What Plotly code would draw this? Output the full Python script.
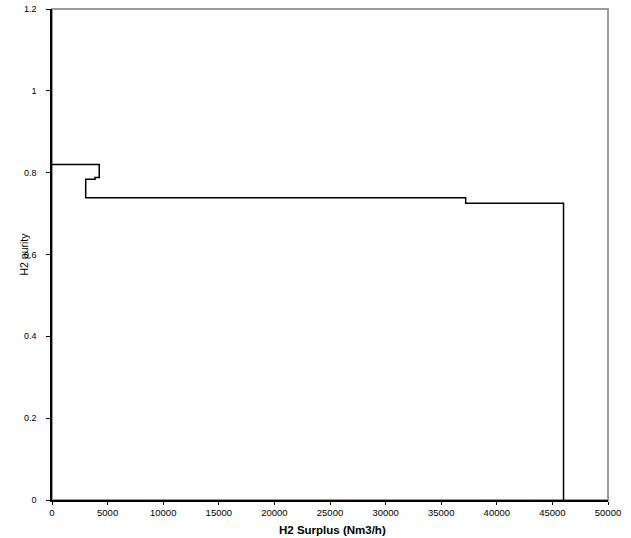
import plotly.graph_objects as go

# Step curve vertices (H2 surplus, purity), hv steps
surplus = [0, 4250, 3870, 3030, 37200, 46000]
purity = [0.82, 0.788, 0.784, 0.739, 0.725, 0.0]

x_ticks = [0, 5000, 10000, 15000, 20000, 25000, 30000, 35000, 40000, 45000, 50000]
y_ticks = [0, 0.2, 0.4, 0.6, 0.8, 1, 1.2]
y_tick_labels = ["0", "0.2", "0.4", "0.6", "0.8", "1", "1.2"]

FONT = "Liberation Sans, Arial, sans-serif"

fig = go.Figure()
fig.add_trace(go.Scatter(
    x=surplus, y=purity, mode="lines", line_shape="hv",
    line=dict(color="black", width=1.5), showlegend=False, hoverinfo="skip",
))

fig.add_shape(type="rect", xref="paper", yref="paper", x0=0, y0=0, x1=1, y1=1,
              line=dict(color="#9a9a9a", width=2), layer="below")

fig.update_layout(
    width=631, height=538,
    margin=dict(l=52, r=23, t=9, b=38, autoexpand=False),
    paper_bgcolor="white", plot_bgcolor="white",
    font=dict(family=FONT, size=9, color="black"),
    xaxis=dict(range=[0, 50000], tickvals=x_ticks, ticktext=[str(v) for v in x_ticks],
               showgrid=False, zeroline=False, showline=True, linecolor="black", linewidth=1.5,
               ticks="outside", ticklen=3, tickcolor="black", tickfont=dict(size=9.5),
               automargin=False),
    yaxis=dict(range=[0, 1.2], tickvals=y_ticks, ticktext=y_tick_labels,
               showgrid=False, zeroline=False, showline=True, linecolor="black", linewidth=1.5,
               ticks="outside", ticklen=4, tickcolor="black", tickfont=dict(size=9),
               ticklabelstandoff=8, automargin=False),
    annotations=[
        dict(text="<b>H2 Surplus (Nm3/h)</b>", xref="paper", yref="paper", x=0.505, y=0,
             xanchor="center", yshift=-22, showarrow=False, yanchor="top", font=dict(size=11.5)),
        dict(text="H2 purity", xref="paper", yref="paper", x=0, xanchor="center",
             xshift=-29, y=0.5, yanchor="middle", textangle=-90, showarrow=False,
             font=dict(size=10.5)),
    ],
)

fig.write_html("out.html")
